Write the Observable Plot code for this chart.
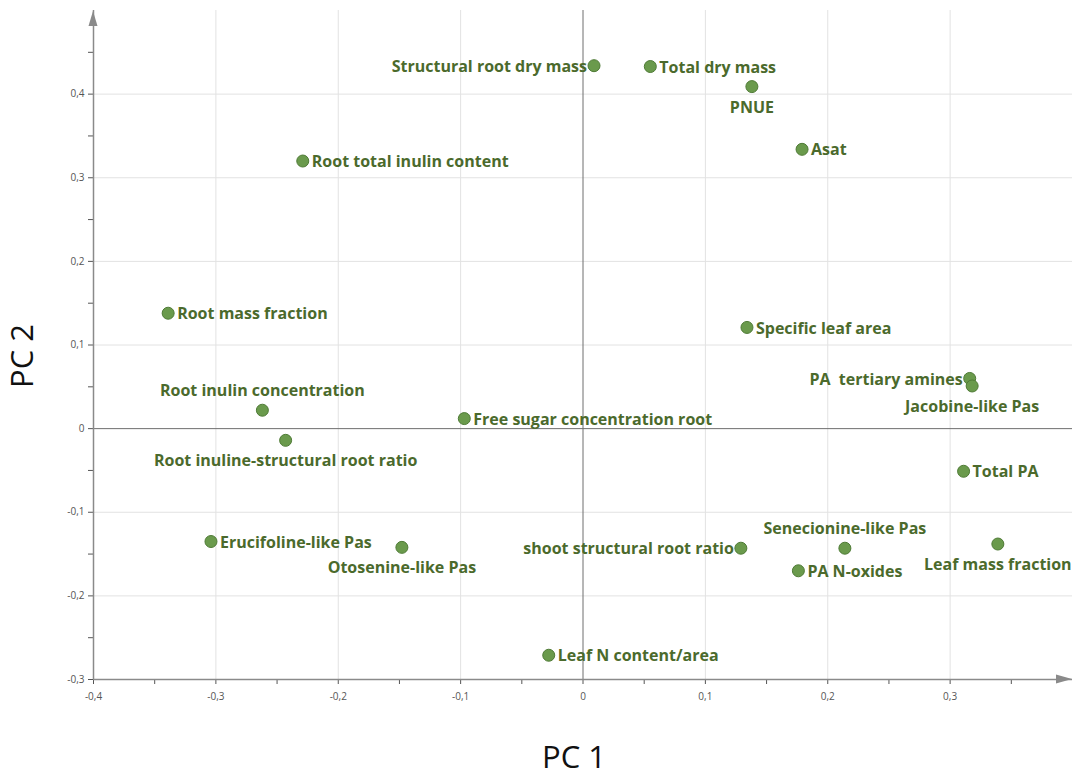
<!DOCTYPE html>
<html>
<head>
<meta charset="utf-8">
<script src="https://cdn.jsdelivr.net/npm/d3@7"></script>
<script src="https://cdn.jsdelivr.net/npm/@observablehq/plot@0.6"></script>
<style>
  html, body { margin: 0; padding: 0; background: #fff; }
  #chart { width: 1073px; height: 779px; }
</style>
</head>
<body>
<div id="chart"></div>
<script>
// ---- data ----
const variables = [
  "Structural root dry mass", "Total dry mass", "PNUE", "Asat",
  "Root total inulin content", "Root mass fraction", "Specific leaf area",
  "PA  tertiary amines", "Jacobine-like Pas", "Root inulin concentration",
  "Free sugar concentration root", "Root inuline-structural root ratio",
  "Total PA", "Erucifoline-like Pas", "Otosenine-like Pas",
  "shoot structural root ratio", "Senecionine-like Pas", "Leaf mass fraction",
  "PA N-oxides", "Leaf N content/area"
];
const pc1 = [0.009, 0.055, 0.138, 0.179, -0.229, -0.339, 0.134, 0.316, 0.318, -0.262,
             -0.097, -0.243, 0.311, -0.304, -0.148, 0.129, 0.214, 0.339, 0.176, -0.028];
const pc2 = [0.434, 0.433, 0.409, 0.334, 0.320, 0.138, 0.121, 0.060, 0.051, 0.022,
             0.012, -0.014, -0.051, -0.135, -0.142, -0.143, -0.143, -0.138, -0.170, -0.271];
const xTicks = [-0.4, -0.35, -0.3, -0.25, -0.2, -0.15, -0.1, -0.05, 0, 0.05, 0.1, 0.15, 0.2, 0.25, 0.3, 0.35];
const yTicks = [-0.3, -0.25, -0.2, -0.15, -0.1, -0.05, 0, 0.05, 0.1, 0.15, 0.2, 0.25, 0.3, 0.35, 0.4, 0.45];
const xGrid = [-0.3, -0.2, -0.1, 0.1, 0.2, 0.3];
const yGrid = [-0.2, -0.1, 0.1, 0.2, 0.3, 0.4];
const xTitle = "PC 1";
const yTitle = "PC 2";

// ---- label placement (layout, kept apart from data) ----
const placement = {
  "Structural root dry mass": "left", "PA  tertiary amines": "left", "shoot structural root ratio": "left",
  "PNUE": "below", "Jacobine-like Pas": "below", "Root inuline-structural root ratio": "below",
  "Otosenine-like Pas": "below", "Leaf mass fraction": "below",
  "Root inulin concentration": "above", "Senecionine-like Pas": "above"
};

const points = variables.map((name, i) => ({name, x: pc1[i], y: pc2[i], pos: placement[name] || "right"}));

const isMajor = v => Math.abs(v * 10 - Math.round(v * 10)) < 1e-9;
const fmt = v => isMajor(v) ? (Math.abs(v) < 1e-9 ? "0" : v.toFixed(1).replace(".", ",")) : "";

const labelFont = {fontFamily: "'Open Sans', sans-serif", fontSize: 16, fontWeight: 700, fill: "#4b6a2c"};
const titleFont = {fontFamily: "'Open Sans', sans-serif", fontSize: 31, fill: "#111"};

const plot = Plot.plot({
  width: 1073,
  height: 779,
  marginLeft: 93,
  marginRight: 1,
  marginTop: 10,
  marginBottom: 100,
  style: {fontFamily: "'Open Sans', sans-serif", fontSize: "10px", color: "#555", background: "#fff"},
  x: {domain: [-0.4, 0.4], ticks: xTicks, tickFormat: fmt, tickSize: 5, tickPadding: 8, label: null},
  y: {domain: [-0.3, 0.5], ticks: yTicks, tickFormat: fmt, tickSize: 5, tickPadding: 4, label: null},
  marks: [
    Plot.ruleX(xGrid, {stroke: "#e2e2e2", strokeWidth: 1}),
    Plot.ruleY(yGrid, {stroke: "#e2e2e2", strokeWidth: 1}),
    Plot.ruleX([0], {stroke: "#6e6e6e", strokeWidth: 1}),
    Plot.ruleY([0], {stroke: "#6e6e6e", strokeWidth: 1}),
    Plot.ruleX([-0.4], {stroke: "#8a8a8a", strokeWidth: 1.5}),
    Plot.ruleY([-0.3], {stroke: "#8a8a8a", strokeWidth: 1.5}),
    Plot.dot(points, {x: "x", y: "y", r: 6, fill: "#6a9a4c", stroke: "#4f7b36", strokeWidth: 1}),
    Plot.text(points.filter(d => d.pos === "right"), {x: "x", y: "y", text: "name", textAnchor: "start", dx: 9, dy: 1, ...labelFont}),
    Plot.text(points.filter(d => d.pos === "left"), {x: "x", y: "y", text: "name", textAnchor: "end", dx: -7, dy: 1, ...labelFont}),
    Plot.text(points.filter(d => d.pos === "above"), {x: "x", y: "y", text: "name", textAnchor: "middle", dy: -19, ...labelFont}),
    Plot.text(points.filter(d => d.pos === "below"), {x: "x", y: "y", text: "name", textAnchor: "middle", dy: 21, ...labelFont}),
    Plot.text([xTitle], {frameAnchor: "bottom", textAnchor: "middle", dx: -9, dy: 88, ...titleFont}),
    Plot.text([yTitle], {frameAnchor: "left", textAnchor: "middle", dx: -70, dy: 11, rotate: -90, ...titleFont})
  ]
});

// arrow heads at the ends of the two axis lines, placed through the plot's scales
const sx = plot.scale("x"), sy = plot.scale("y");
const svg = d3.select(plot.tagName.toLowerCase() === "svg" ? plot : plot.querySelector("svg"));
const xEnd = sx.apply(0.4), yBase = sy.apply(-0.3);
svg.append("path")
  .attr("d", `M${xEnd},${yBase}L${xEnd - 16},${yBase - 4.5}L${xEnd - 16},${yBase + 4.5}Z`)
  .attr("fill", "#8a8a8a");
const xBase = sx.apply(-0.4), yEnd = sy.apply(0.5);
svg.append("path")
  .attr("d", `M${xBase},${yEnd + 1}L${xBase - 4.5},${yEnd + 16}L${xBase + 4.5},${yEnd + 16}Z`)
  .attr("fill", "#8a8a8a");

document.getElementById("chart").appendChild(plot);
</script>
</body>
</html>
